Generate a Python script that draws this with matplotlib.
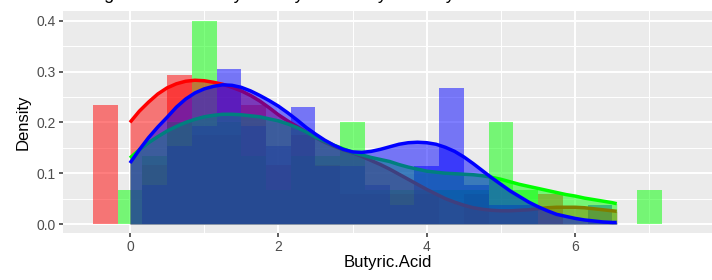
import numpy as np
import matplotlib
matplotlib.use("Agg")
import matplotlib.pyplot as plt

plt.rcParams['font.family'] = ['Liberation Sans', 'DejaVu Sans']

# histogram bins (width 1/3), densities per group
bin_centers = np.arange(-1, 22) / 3.0
bin_width = 1 / 3.0
hist_red = [0.234, 0, 0.117, 0.293, 0.176, 0.176, 0.234, 0.117, 0.176, 0.117, 0.059, 0.059,
            0.059, 0.059, 0, 0.059, 0, 0, 0.059, 0, 0, 0, 0]
hist_green = [0, 0.067, 0.133, 0.2, 0.4, 0.2, 0.133, 0.067, 0.133, 0.133, 0.2, 0.067,
              0.067, 0.067, 0.067, 0.067, 0.2, 0.067, 0, 0, 0, 0, 0.067]
hist_blue = [0, 0, 0.077, 0.153, 0.192, 0.306, 0.192, 0.153, 0.23, 0.115, 0.115, 0.077,
             0.038, 0.115, 0.268, 0.077, 0.038, 0.038, 0, 0, 0.038, 0, 0]

# density curves (every 0.125 from 0 to 6.5, then 6.56)
dens_x = list(np.arange(0, 6.51, 0.125)) + [6.56]
dens_red = [0.200, 0.222, 0.240, 0.256, 0.268, 0.276, 0.281, 0.283, 0.282, 0.279,
            0.275, 0.269, 0.262, 0.253, 0.242, 0.229, 0.215, 0.203, 0.192, 0.181,
            0.170, 0.161, 0.153, 0.146, 0.140, 0.133, 0.125, 0.117, 0.108, 0.098,
            0.088, 0.078, 0.068, 0.059, 0.050, 0.043, 0.037, 0.032, 0.029, 0.027,
            0.026, 0.026, 0.027, 0.028, 0.030, 0.032, 0.033, 0.033, 0.033, 0.032,
            0.030, 0.028, 0.026, 0.025]
dens_green = [0.130, 0.146, 0.160, 0.172, 0.183, 0.192, 0.200, 0.206, 0.211, 0.214,
              0.216, 0.216, 0.215, 0.213, 0.211, 0.207, 0.203, 0.197, 0.190, 0.181,
              0.171, 0.163, 0.155, 0.148, 0.141, 0.136, 0.131, 0.127, 0.123, 0.117,
              0.112, 0.108, 0.104, 0.102, 0.100, 0.099, 0.098, 0.097, 0.095, 0.092,
              0.088, 0.083, 0.078, 0.074, 0.070, 0.066, 0.062, 0.058, 0.055, 0.051,
              0.048, 0.045, 0.042, 0.040]
dens_blue = [0.120, 0.146, 0.170, 0.191, 0.210, 0.230, 0.246, 0.258, 0.266, 0.271,
             0.274, 0.273, 0.269, 0.262, 0.253, 0.243, 0.232, 0.219, 0.205, 0.190,
             0.177, 0.165, 0.155, 0.147, 0.142, 0.141, 0.143, 0.147, 0.152, 0.157,
             0.160, 0.161, 0.160, 0.157, 0.151, 0.143, 0.132, 0.119, 0.105, 0.091,
             0.078, 0.065, 0.054, 0.043, 0.034, 0.026, 0.019, 0.015, 0.011, 0.008,
             0.006, 0.004, 0.003, 0.003]

colors = ['#FF0000', '#00FF00', '#0000FF']

fig = plt.figure(figsize=(7.12, 2.8), dpi=100)
ax = fig.add_axes([63 / 712, 47 / 280, 649 / 712, 222 / 280])
ax.set_facecolor('#EBEBEB')

for h, c in zip([hist_red, hist_green, hist_blue], colors):
    ax.bar(bin_centers, h, width=bin_width, color=c, alpha=0.5, linewidth=0, zorder=2)

z = 3
for d, c in zip([dens_red, dens_green, dens_blue], colors):
    ax.fill_between(dens_x, 0, d, color=c, alpha=0.5, linewidth=0, zorder=z)
    ax.plot(dens_x, d, color=c, lw=2.5, solid_capstyle='butt', zorder=z + 0.5)
    z += 1

ax.set_xlim(-0.903, 7.844)
ax.set_ylim(-0.0177, 0.4193)
ax.set_xticks([0, 2, 4, 6])
ax.set_xticks([1, 3, 5, 7], minor=True)
ax.set_yticks([0.0, 0.1, 0.2, 0.3, 0.4])
ax.set_yticklabels(['0.0', '0.1', '0.2', '0.3', '0.4'])
ax.set_yticks([0.05, 0.15, 0.25, 0.35], minor=True)
ax.grid(which='major', color='white', lw=1.4, zorder=1)
ax.grid(which='minor', color='white', lw=0.7, zorder=1)
ax.set_axisbelow(True)
for s in ax.spines.values():
    s.set_visible(False)
ax.tick_params(which='major', length=3, width=1.1, color='#333333', labelcolor='#4D4D4D',
               labelsize=10, pad=2)
ax.tick_params(which='minor', length=0)

ax.set_xlabel('Butyric.Acid', fontsize=12, labelpad=1)
ax.set_ylabel('Density', fontsize=12, labelpad=4)

# title sits mostly above the cropped top edge
fig.text(63 / 712, 1 + 1 / 280, 'Histogram and density of Butyric.Acid by Country',
         fontsize=13, va='baseline', ha='left')

fig.savefig('out.png', dpi=100)
